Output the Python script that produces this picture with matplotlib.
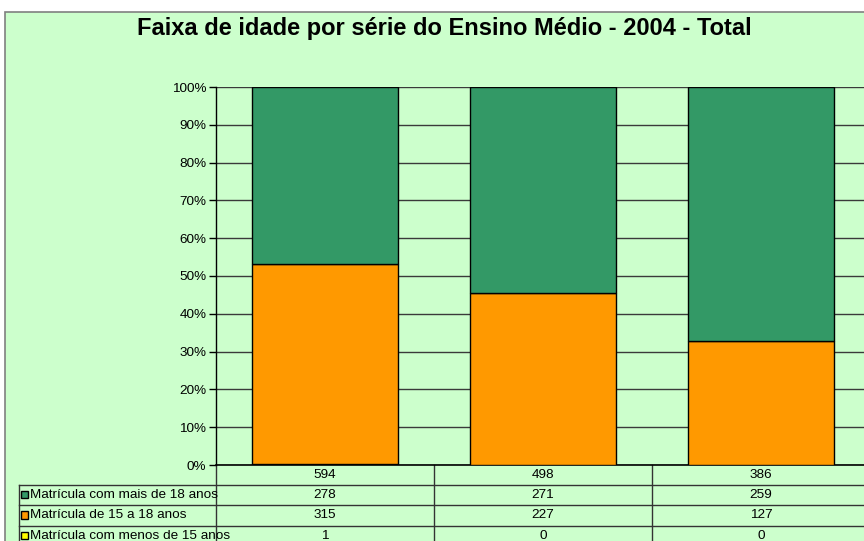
import numpy as np
import matplotlib
matplotlib.use('Agg')
import matplotlib.pyplot as plt
import matplotlib.transforms as mtransforms
from matplotlib.patches import Rectangle
from matplotlib.ticker import PercentFormatter

plt.rcParams['font.family'] = ['Liberation Sans', 'DejaVu Sans']

# data
categories = ['594', '498', '386']
series_names = ['Matrícula com mais de 18 anos', 'Matrícula de 15 a 18 anos', 'Matrícula com menos de 15 anos']
mais_18 = [278, 271, 259]
de_15_18 = [315, 227, 127]
menos_15 = [1, 0, 0]
colors = ['#339966', '#FF9900', '#FFFF00']

W, H = 864, 541
fig = plt.figure(figsize=(W / 100, H / 100), dpi=100)
fig.patch.set_facecolor('white')

# chart area background with grey frame
fig.add_artist(Rectangle((5 / W, -0.01), 1.0, (H - 12) / H + 0.01, transform=fig.transFigure,
                         facecolor='#CCFFCC', edgecolor='#808080', linewidth=1.2, zorder=0))

fig.text(444 / W, 1 - 29 / H, 'Faixa de idade por série do Ensino Médio - 2004 - Total',
         ha='center', va='center', fontsize=17, fontweight='bold')

# plot area (extends past the right edge, like the original)
ax_l, ax_r, ax_t, ax_b = 216, 870, 87, 465
ax = fig.add_axes([ax_l / W, 1 - ax_b / H, (ax_r - ax_l) / W, (ax_b - ax_t) / H])
ax.set_facecolor('none')

vals = np.array([menos_15, de_15_18, mais_18], dtype=float)
pct = vals / vals.sum(axis=0) * 100
x = np.arange(len(categories))
bottom = np.zeros(len(categories))
for row, col in zip(pct, [colors[2], colors[1], colors[0]]):
    ax.bar(x, row, width=0.67, bottom=bottom, color=col, edgecolor='black', linewidth=1, zorder=3)
    bottom += row

ax.set_xlim(-0.5, 2.5)
ax.set_ylim(0, 100)
ax.set_yticks(np.arange(0, 101, 10))
ax.yaxis.set_major_formatter(PercentFormatter(decimals=0))
ax.tick_params(axis='y', labelsize=9.7, length=5, width=1, color='black', pad=2)
ax.set_xticks([])
ax.grid(axis='y', color='#3a3a3a', linewidth=1, zorder=0)
ax.set_axisbelow(True)
for s in ['top', 'right']:
    ax.spines[s].set_visible(False)
ax.spines['left'].set_linewidth(1)
ax.spines['bottom'].set_linewidth(1.2)

# data table below the plot
trans = mtransforms.blended_transform_factory(ax.transData, ax.transAxes)
pw, ph = ax_r - ax_l, ax_b - ax_t
row_edges = np.array([0, 19.5, 40, 60.5, 81]) / ph   # header row, then three series rows
lab_left = (18.5 - ax_l) / pw
line_kw = dict(color='#333333', linewidth=1, clip_on=False)

# vertical lines
for xb in [-0.5, 0.5, 1.5]:
    ax.plot([xb, xb], [0, -row_edges[-1]], transform=trans, **line_kw)
ax.plot([lab_left, lab_left], [-row_edges[1], -row_edges[-1]], transform=ax.transAxes, **line_kw)
# horizontal lines
for e in row_edges[1:-1]:
    ax.plot([lab_left, 1.0], [-e, -e], transform=ax.transAxes, **line_kw)

for i, c in enumerate(categories):
    ax.text(i, -(row_edges[0] + row_edges[1]) / 2, c, transform=trans, ha='center', va='center', fontsize=9.7)

table_rows = [mais_18, de_15_18, menos_15]
for r, (name, vals_r, col) in enumerate(zip(series_names, table_rows, colors)):
    yc = -(row_edges[r + 1] + row_edges[r + 2]) / 2
    ax.add_patch(Rectangle(((21 - ax_l) / pw, yc - 3.7 / ph), 7.5 / pw, 7.5 / ph, transform=ax.transAxes,
                           facecolor=col, edgecolor='black', linewidth=1, clip_on=False))
    ax.text((30 - ax_l) / pw, yc, name, transform=ax.transAxes,
            ha='left', va='center', fontsize=9.7)
    for i, v in enumerate(vals_r):
        ax.text(i, yc, str(v), transform=trans, ha='center', va='center', fontsize=9.7)

fig.savefig('out.png', dpi=100)
